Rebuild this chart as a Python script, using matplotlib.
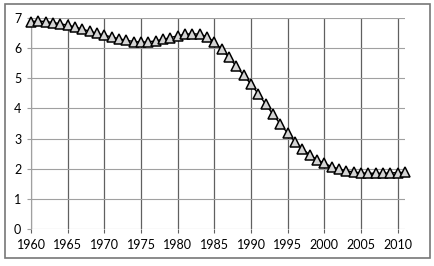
import matplotlib
matplotlib.use('Agg')
import matplotlib.pyplot as plt
from matplotlib.patches import Rectangle

# values
years = list(range(1960, 2012))
rate = [6.88, 6.90, 6.88, 6.85, 6.81, 6.76, 6.70, 6.63, 6.56, 6.49,
        6.43, 6.37, 6.31, 6.26, 6.22, 6.20, 6.21, 6.24, 6.29, 6.35,
        6.41, 6.46, 6.48, 6.46, 6.38, 6.20, 5.96, 5.69, 5.40, 5.10,
        4.80, 4.48, 4.14, 3.80, 3.48, 3.18, 2.90, 2.66, 2.46, 2.30,
        2.18, 2.07, 1.99, 1.93, 1.89, 1.86, 1.85, 1.85, 1.85, 1.86,
        1.87, 1.88]
xticks = list(range(1960, 2011, 5))
yticks = list(range(0, 8))

plt.rcParams['font.family'] = ['Lato', 'DejaVu Sans']

fig = plt.figure(figsize=(4.35, 2.66), dpi=100)
fig.patches.append(Rectangle((5/435, 1 - 258/266), 425/435, 254/266,
                             transform=fig.transFigure, fill=False,
                             edgecolor='#777777', linewidth=1.2))
ax = fig.add_axes([31/435, 1 - 229/266, 374/435, 211/266])

ax.plot(years, rate, color='black', linewidth=1, marker='^',
        markersize=7.5, markerfacecolor='#d4d4d4', markeredgecolor='black',
        markeredgewidth=1.1, clip_on=False, zorder=3)

ax.set_xlim(1960, 2011)
ax.set_ylim(0, 7)
ax.set_xticks(xticks)
ax.set_yticks(yticks)
ax.grid(axis='y', color='#a0a0a0', linewidth=0.8)
ax.grid(axis='x', color='#606060', linewidth=0.9)
for s in ['top', 'right', 'bottom']:
    ax.spines[s].set_visible(False)
ax.spines['left'].set_color('#a0a0a0')
ax.tick_params(axis='y', length=3, color='#a0a0a0', labelsize=9, pad=4)
ax.tick_params(axis='x', length=3, color='#606060', labelsize=9, pad=4)

fig.savefig('out.png', dpi=100)
